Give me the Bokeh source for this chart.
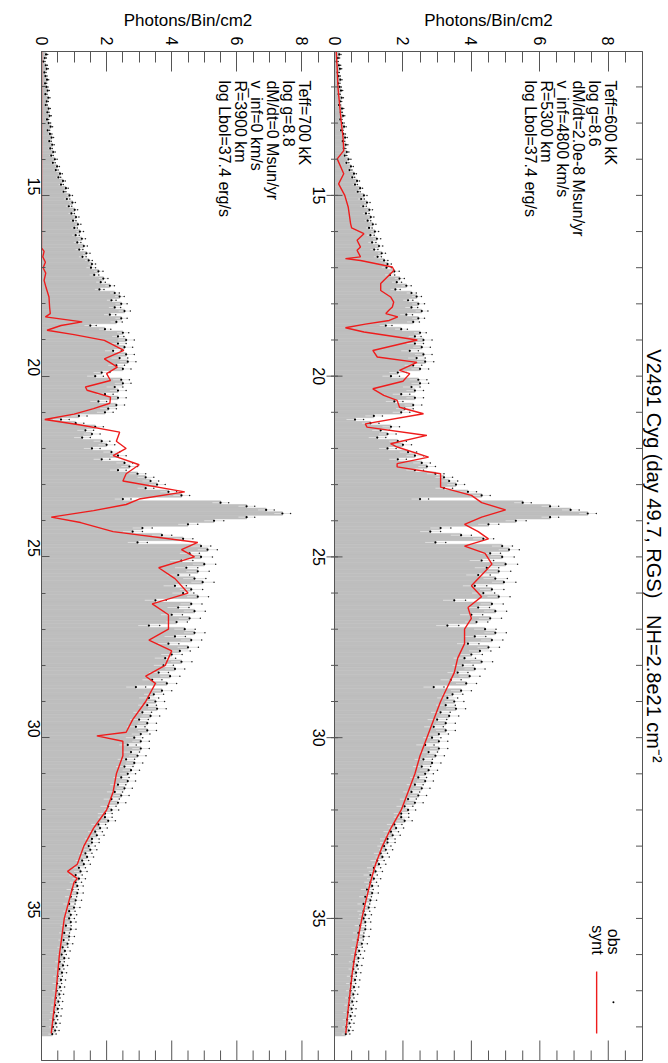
import math
from bokeh.plotting import figure
from bokeh.layouts import column
from bokeh.models import (Range1d, FixedTicker, CustomJSTickFormatter,
                          Label, Span, ColumnDataSource, Title)
from bokeh.core.properties import value
from bokeh.embed import file_html
from bokeh.resources import INLINE

# ---------------- data ----------------
# observed spectrum (photons/bin/cm2), bins of 0.1 A starting at 11.0 A
obs_start = 11.0
obs_step = 0.1
obs = [
    0.08, 0.14, 0.10, 0.06, 0.13, 0.16, 0.09, 0.12, 0.17, 0.11,   # 11
    0.15, 0.19, 0.12, 0.21, 0.16, 0.13, 0.22, 0.18, 0.25, 0.17,   # 12
    0.22, 0.28, 0.19, 0.26, 0.31, 0.24, 0.33, 0.27, 0.36, 0.30,   # 13
    0.41, 0.35, 0.48, 0.44, 0.57, 0.52, 0.66, 0.60, 0.75, 0.68,   # 14
    0.86, 0.78, 0.95, 0.84, 1.02, 0.92, 1.06, 0.97, 1.12, 1.01,   # 15
    1.18, 1.05, 1.24, 1.10, 1.30, 1.16, 1.38, 1.26, 1.45, 1.55,   # 16
    1.52, 1.75, 1.62, 1.90, 1.82, 2.10, 1.78, 2.25, 2.40, 2.15,   # 17
    2.45, 2.25, 2.55, 2.10, 2.45, 2.30, 1.50, 1.95, 2.50, 2.35,   # 18
    2.60, 2.35, 2.55, 2.20, 2.60, 2.40, 2.65, 2.30, 2.50, 1.85,   # 19
    1.65, 2.45, 2.50, 2.25, 2.35, 1.95, 2.35, 1.75, 2.30, 2.05,   # 20
    1.95, 1.15, 0.60, 1.05, 1.65, 1.35, 1.55, 1.25, 1.85, 2.00,   # 21
    1.55, 2.15, 2.35, 1.85, 2.55, 2.70, 2.35, 2.95, 3.20, 3.35,   # 22
    3.55, 3.20, 3.90, 4.30, 2.50, 5.50, 6.30, 6.90, 7.40, 6.30,   # 23
    5.30, 4.50, 3.10, 2.80, 3.70, 4.35, 2.95, 4.90, 5.10, 4.55,   # 24
    4.90, 4.30, 5.00, 4.45, 4.80, 4.20, 4.70, 4.95, 4.10, 4.60,   # 25
    4.35, 4.80, 3.50, 4.60, 4.20, 4.70, 4.00, 4.55, 4.15, 3.30,   # 26
    4.40, 4.70, 4.10, 4.60, 3.90, 4.50, 4.25, 4.00, 3.80, 4.30,   # 27
    3.75, 4.10, 3.60, 3.95, 3.40, 3.85, 2.90, 3.70, 3.45, 3.30,   # 28
    3.50, 3.25, 3.55, 3.10, 3.35, 3.00, 3.25, 2.90, 3.25, 3.05,   # 29
    2.85, 3.05, 2.65, 3.05, 2.75, 2.95, 2.60, 2.85, 2.55, 2.75,   # 30
    2.65, 2.45, 2.65, 2.35, 2.55, 2.25, 2.45, 2.15, 2.35, 2.05,   # 31
    2.15, 1.95, 1.95, 2.05, 1.75, 1.80, 1.65, 1.70, 1.55, 1.55,   # 32
    1.45, 1.50, 1.35, 1.40, 1.25, 1.30, 1.15, 1.20, 1.05, 1.15,   # 33
    1.05, 1.10, 0.95, 1.10, 0.90, 1.05, 0.85, 1.00, 0.85, 0.90,   # 34
    0.85, 0.90, 0.75, 0.90, 0.70, 0.85, 0.68, 0.80, 0.65, 0.72,   # 35
    0.62, 0.70, 0.56, 0.66, 0.55, 0.63, 0.50, 0.60, 0.48, 0.57,   # 36
    0.47, 0.55, 0.44, 0.52, 0.42, 0.50, 0.39, 0.47, 0.37, 0.44,   # 37
    0.35, 0.42, 0.33,                                             # 38
]
# typical 1-sigma error per 1-A interval (11..38 A)
err_per_A = [0.05, 0.05, 0.06, 0.07, 0.09, 0.11, 0.14, 0.18, 0.25, 0.25,
             0.25, 0.25, 0.25, 0.30, 0.35, 0.33, 0.32, 0.30, 0.28, 0.26,
             0.24, 0.22, 0.20, 0.18, 0.16, 0.14, 0.13, 0.12]

# synthetic spectrum, model 1 (Teff=700 kK, static)
synA_wl = [11.0, 16.45, 16.55, 16.7, 16.85, 17.0, 17.15, 17.35, 17.55, 17.81, 18.1, 18.27,
           18.36, 18.5, 18.6, 18.73, 18.85, 19.01, 19.29, 19.52, 19.75, 19.93, 20.12,
           20.3, 20.39, 20.58, 20.75, 20.9, 21.05, 21.2, 21.35, 21.55, 21.8, 22.0,
           22.2, 22.45, 22.7, 22.9, 23.2, 23.4, 23.55, 23.72, 23.9, 24.05, 24.3, 24.6,
           24.8, 25.0, 25.3, 25.6, 26.0, 26.3, 26.6, 27.0, 27.3, 27.6, 28.0, 28.3,
           28.5, 29.0, 29.5, 29.85, 29.95, 30.1, 30.5, 31.0, 31.5, 32.0, 32.5, 33.0,
           33.5, 33.7, 33.9, 34.0, 35.0, 36.0, 37.0, 38.18]
synA = [0.0, 0.0, 0.08, 0.04, 0.12, 0.05, 0.13, 0.08, 0.14, 0.23, 0.25, 0.27,
        0.12, 1.25, 0.6, 0.17, 1.0, 1.93, 2.53, 1.93, 2.33, 2.0, 2.12,
        1.35, 1.4, 2.12, 2.1, 1.6, 1.0, 0.1, 1.2, 2.4, 2.3, 2.6,
        2.2, 3.0, 2.6, 2.5, 4.4, 3.0, 2.6, 1.6, 0.3, 1.2, 2.2, 4.8,
        4.3, 4.7, 3.6, 4.1, 4.5, 3.4, 3.9, 3.9, 3.3, 4.0, 3.8, 3.2,
        3.5, 3.2, 2.8, 2.6, 1.7, 2.5, 2.5, 2.3, 2.2, 2.0, 1.6, 1.3,
        1.1, 0.8, 1.1, 1.0, 0.7, 0.55, 0.45, 0.3]

# synthetic spectrum, model 2 (Teff=600 kK, wind)
synB_wl = [11.0, 11.5, 12.0, 12.5, 13.0, 13.4, 13.76, 13.99, 14.4, 14.68, 15.0, 15.32,
           15.78, 15.9, 16.06, 16.24, 16.43, 16.52, 16.7, 16.75, 16.8, 16.98, 17.07,
           17.44, 17.63, 17.81, 17.95, 18.09, 18.18, 18.27, 18.36, 18.46, 18.56, 18.66,
           18.78, 19.0, 19.29, 19.47, 19.62, 19.84, 19.93, 20.14, 20.35, 20.53, 20.67,
           20.86, 21.04, 21.32, 21.41, 21.64, 21.87, 21.96, 22.24, 22.42, 22.51, 22.7,
           23.07, 23.3, 23.5, 23.7, 23.9, 24.1, 24.3, 24.5, 24.7, 24.9, 25.2, 25.5,
           25.8, 26.1, 26.4, 26.7, 27.0, 27.4, 27.8, 28.2, 28.6, 29.0, 29.5, 30.0,
           30.5, 31.0, 31.5, 32.0, 32.5, 33.0, 33.5, 34.0, 34.5, 35.0, 35.5, 36.0,
           36.5, 37.0, 37.5, 38.18]
synB = [0.05, 0.08, 0.10, 0.15, 0.20, 0.25, 0.27, 0.08, 0.27, 0.12, 0.30, 0.40,
        0.47, 0.50, 0.86, 0.66, 0.76, 0.66, 0.76, 0.32, 0.76, 1.69, 1.74,
        1.35, 1.35, 1.64, 1.73, 1.69, 1.59, 1.50, 1.85, 1.60, 0.90, 0.32,
        0.86, 2.42, 1.12, 1.25, 2.41, 1.90, 2.20, 2.00, 1.12, 1.44, 1.83,
        1.90, 2.60, 0.90, 0.95, 2.70, 1.64, 1.83, 2.75, 1.83, 1.83, 3.10,
        3.10, 4.00, 4.30, 5.00, 4.30, 3.80, 4.20, 4.50, 3.80, 4.40, 4.60, 4.30,
        4.00, 4.30, 3.90, 4.00, 3.80, 3.80, 3.60, 3.50, 3.30, 3.10, 2.90, 2.70,
        2.50, 2.35, 2.15, 1.95, 1.65, 1.40, 1.20, 1.05, 0.92, 0.80, 0.70, 0.60,
        0.52, 0.46, 0.40, 0.33]

paramsA = ["Teff=700 kK", "log g=8.8", "dM/dt=0 Msun/yr", "v_inf=0 km/s",
           "R=3900 km", "log Lbol=37.4 erg/s"]
paramsB = ["Teff=600 kK", "log g=8.6", "dM/dt=2.0e-8 Msun/yr", "v_inf=4800 km/s",
           "R=5300 km", "log Lbol=37.4 erg/s"]
title_text = ("V2491 Cyg (day 49.7, RGS)\u00a0\u00a0\u00a0NH=2.8e21 cm\u207b\u00b2")
ylab = "Photons/Bin/cm2"
flux_ticks = [0, 2, 4, 6, 8]
wl_ticks = [15, 20, 25, 30, 35]

# ---------------- layout ----------------
FONT = "Liberation Sans"
AX = "#555555"
GRAY = "#bebebe"
RED = "#ee1c1c"
W = 668
HH = 30                      # header strip holding the flux-axis titles
H = 1063 - HH
BL, BT, BR, BB = 41, 51 - HH, 26, 3
FW = W - BL - BR            # frame width, px
LEFT_PX = 293               # width of lower-model panel
RIGHT_PX = FW - LEFT_PX
FMAX = 9.0
XMAX = FMAX * FW / LEFT_PX
RSTART = -FMAX * LEFT_PX / RIGHT_PX
WL_TOP, WL_BOT = 11.02, 38.93

# header strip: "Photons/Bin/cm2" above each panel
hdr = figure(width=W, height=HH, output_backend="svg", toolbar_location=None,
             x_range=Range1d(0, XMAX), y_range=Range1d(0, 1),
             x_axis_location=None, y_axis_location=None,
             min_border_left=BL, min_border_right=BR, min_border_top=0,
             min_border_bottom=0)
hdr.extra_x_ranges = {"r": Range1d(RSTART, FMAX)}
hdr.grid.visible = False
hdr.outline_line_color = None
for rng in ("default", "r"):
    hdr.text(x=[4.5], y=[0.32], text=[ylab], text_align="center", text_baseline="middle",
             text_font=value(FONT), text_font_size="17px", text_color="black",
             x_range_name=rng)

p = figure(width=W, height=H, output_backend="svg", toolbar_location=None,
           x_range=Range1d(0, XMAX), y_range=Range1d(WL_BOT, WL_TOP),
           x_axis_location="above", y_axis_location="left",
           min_border_left=BL, min_border_top=BT, min_border_right=BR,
           min_border_bottom=BB)
p.extra_x_ranges = {"r": Range1d(RSTART, FMAX)}
p.grid.visible = False
p.outline_line_color = AX
p.background_fill_color = "white"

# main title on the right side (reads top to bottom)
p.add_layout(Title(text=title_text, align="center", text_font=FONT,
                   text_font_size="20px", text_font_style="normal",
                   text_color="black", standoff=0, offset=4), "right")

# map of flux ticks for both panels onto main x scale
scale_r = RIGHT_PX / LEFT_PX
r0 = FMAX
maj = [float(t) for t in flux_ticks] + [r0 + t * scale_r for t in flux_ticks]
minor_vals = [k * 0.5 for k in range(1, 19) if (k * 0.5) not in flux_ticks]
mino = [v for v in minor_vals if v < FMAX] + [r0 + v * scale_r for v in minor_vals]
fmt = CustomJSTickFormatter(args=dict(r0=r0, s=scale_r), code="""
    if (tick < r0 - 0.05) { return String(Math.round(tick)); }
    return String(Math.round((tick - r0) / s));
""")

top = p.xaxis[0]
top.ticker = FixedTicker(ticks=maj, minor_ticks=mino)
top.formatter = fmt
top.major_tick_in = 20
top.major_tick_out = 0
top.minor_tick_in = 11
top.minor_tick_out = 0
top.major_label_orientation = -math.pi / 2
top.major_label_standoff = 6
top.major_label_text_font = FONT
top.major_label_text_font_size = "16px"
top.major_label_text_color = "black"
top.axis_line_color = AX
top.major_tick_line_color = AX
top.minor_tick_line_color = AX

wl_minor = list(range(11, 39))
left = p.yaxis[0]
left.ticker = FixedTicker(ticks=wl_ticks, minor_ticks=wl_minor)
left.major_tick_in = 8
left.major_tick_out = 0
left.minor_tick_in = 4
left.minor_tick_out = 0
left.major_label_orientation = -math.pi / 2
left.major_label_standoff = 8
left.major_label_text_font = FONT
left.major_label_text_font_size = "16px"
left.major_label_text_color = "black"
left.axis_line_color = AX
left.major_tick_line_color = AX
left.minor_tick_line_color = AX

# ---------------- spectra ----------------
wl = [obs_start + i * obs_step for i in range(len(obs))]
err = [err_per_A[min(int(w - 11.0 + 1e-6), len(err_per_A) - 1)] for w in wl]
src = ColumnDataSource(dict(wl=wl, obs=obs, lo=[o - e for o, e in zip(obs, err)],
                            hi=[o + e for o, e in zip(obs, err)]))

for rng in ("default", "r"):
    p.hbar(y="wl", left=0, right="obs", height=obs_step, source=src, x_range_name=rng,
           fill_color=GRAY, line_color=GRAY, line_width=0.6)
    p.segment(x0="lo", x1="hi", y0="wl", y1="wl", source=src, x_range_name=rng,
              line_color="#dedede", line_width=1)
    p.scatter(x="obs", y="wl", source=src, x_range_name=rng, size=2.2,
              marker="circle", fill_color="black", line_color=None)
    p.scatter(x="hi", y="wl", source=src, x_range_name=rng, size=1.5,
              marker="circle", fill_color="#222222", line_color=None)

p.line(x=synA, y=synA_wl, line_color=RED, line_width=1.4)
p.line(x=synB, y=synB_wl, line_color=RED, line_width=1.4, x_range_name="r")

# ticks on the bottom and right frame edges (markers clipped to the frame)
p.scatter(x=maj, y=[WL_BOT] * len(maj), marker="dash", angle=math.pi / 2, size=40,
          line_color=AX, line_width=1)
p.scatter(x=mino, y=[WL_BOT] * len(mino), marker="dash", angle=math.pi / 2, size=20,
          line_color=AX, line_width=1)
p.scatter(x=[XMAX] * (len(wl_minor)), y=wl_minor, marker="dash", size=13,
          line_color=AX, line_width=1)

# boundary between the two panels, with its ticks and labels
p.add_layout(Span(location=r0, dimension="height", line_color=AX, line_width=1))
p.scatter(x=[r0] * len(wl_ticks), y=wl_ticks, marker="dash", size=16, line_color=AX,
          line_width=1)
p.scatter(x=[r0] * len(wl_minor), y=wl_minor, marker="dash", size=7, line_color=AX,
          line_width=1)
p.text(x=[r0] * len(wl_ticks), y=wl_ticks, text=[str(t) for t in wl_ticks],
       angle=-math.pi / 2, x_offset=-16, text_align="center", text_baseline="middle",
       text_font=value(FONT), text_font_size="16px", text_color="black")

# ---------------- annotations ----------------
for i, t in enumerate(paramsA):
    p.add_layout(Label(x=8.08, y=11.82, x_offset=-16 * i, text=t, angle=-math.pi / 2,
                       text_align="left", text_baseline="middle", text_font=FONT,
                       text_font_size="16px", text_color="black"))
for i, t in enumerate(paramsB):
    p.add_layout(Label(x=8.07, y=11.82, x_offset=-16 * i, text=t, angle=-math.pi / 2,
                       text_align="left", text_baseline="middle", text_font=FONT,
                       text_font_size="16px", text_color="black", x_range_name="r"))

# legend
p.text(x=[8.14, 7.69], y=[36.0, 36.0], text=["obs", "synt"], angle=-math.pi / 2,
       text_align="right", text_baseline="middle", text_font=value(FONT),
       text_font_size="16px", text_color="black", x_range_name="r")
p.scatter(x=[8.15], y=[37.32], size=2, marker="circle", fill_color="black",
          line_color=None, x_range_name="r")
p.segment(x0=[7.66], x1=[7.66], y0=[36.47], y1=[38.18], line_color=RED, line_width=1.4,
          x_range_name="r")

layout = column(hdr, p, spacing=0)
open("out.html", "w").write(file_html(layout, INLINE))
